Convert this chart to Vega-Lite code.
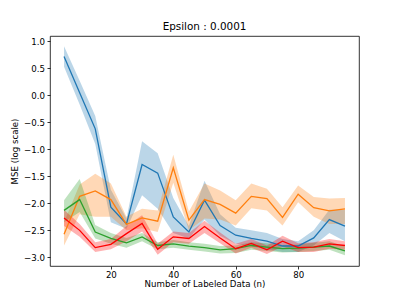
{
  "$schema": "https://vega.github.io/schema/vega-lite/v6.json",
  "autosize": {"type": "none"},
  "width": 309,
  "height": 230,
  "padding": {"left": 50, "top": 36, "right": 40, "bottom": 33},
  "background": "white",
  "title": {"text": "Epsilon : 0.0001", "fontSize": 10.4, "fontWeight": "normal", "font": "DejaVu Sans", "color": "#000", "anchor": "middle", "offset": -4, "baseline": "alphabetic"},
  "config": {
    "view": {"stroke": "#000", "strokeWidth": 0.8},
    "axis": {"font": "DejaVu Sans", "labelFont": "DejaVu Sans", "titleFont": "DejaVu Sans", "labelFontSize": 8.65, "titleFontSize": 8.65, "titleFontWeight": "normal", "labelColor": "#000", "titleColor": "#000", "tickColor": "#000", "tickSize": 3, "tickWidth": 0.8, "domain": false, "grid": false, "labelPadding": 2.5, "labelOverlap": false},
    "axisY": {"labelOverlap": false, "labelBound": false}
  },
  "data": {"values": [
    {"s":"s1","x":5,"y":0.72,"lo":0.53,"hi":0.91},
    {"s":"s1","x":10,"y":0.05,"lo":-0.17,"hi":0.27},
    {"s":"s1","x":15,"y":-0.62,"lo":-0.90,"hi":-0.38},
    {"s":"s1","x":20,"y":-2.07,"lo":-2.35,"hi":-1.75},
    {"s":"s1","x":25,"y":-2.38,"lo":-2.47,"hi":-2.28},
    {"s":"s1","x":30,"y":-1.28,"lo":-1.85,"hi":-0.85},
    {"s":"s1","x":35,"y":-1.44,"lo":-2.10,"hi":-1.07},
    {"s":"s1","x":40,"y":-2.25,"lo":-2.55,"hi":-1.90},
    {"s":"s1","x":45,"y":-2.53,"lo":-2.65,"hi":-2.42},
    {"s":"s1","x":50,"y":-1.94,"lo":-2.30,"hi":-1.58},
    {"s":"s1","x":55,"y":-2.41,"lo":-2.60,"hi":-2.20},
    {"s":"s1","x":60,"y":-2.59,"lo":-2.75,"hi":-2.45},
    {"s":"s1","x":65,"y":-2.65,"lo":-2.80,"hi":-2.50},
    {"s":"s1","x":70,"y":-2.70,"lo":-2.85,"hi":-2.55},
    {"s":"s1","x":75,"y":-2.79,"lo":-2.90,"hi":-2.66},
    {"s":"s1","x":80,"y":-2.79,"lo":-2.90,"hi":-2.70},
    {"s":"s1","x":85,"y":-2.64,"lo":-2.78,"hi":-2.50},
    {"s":"s1","x":90,"y":-2.30,"lo":-2.55,"hi":-2.12},
    {"s":"s1","x":95,"y":-2.42,"lo":-2.70,"hi":-2.12},
    {"s":"s2","x":5,"y":-2.57,"lo":-2.78,"hi":-2.35},
    {"s":"s2","x":10,"y":-1.87,"lo":-2.20,"hi":-1.65},
    {"s":"s2","x":15,"y":-1.77,"lo":-2.25,"hi":-1.45},
    {"s":"s2","x":20,"y":-1.93,"lo":-2.25,"hi":-1.63},
    {"s":"s2","x":25,"y":-2.39,"lo":-2.50,"hi":-2.25},
    {"s":"s2","x":30,"y":-2.27,"lo":-2.46,"hi":-2.10},
    {"s":"s2","x":35,"y":-2.33,"lo":-2.53,"hi":-2.13},
    {"s":"s2","x":40,"y":-1.34,"lo":-1.62,"hi":-1.10},
    {"s":"s2","x":45,"y":-2.31,"lo":-2.50,"hi":-2.15},
    {"s":"s2","x":50,"y":-1.93,"lo":-2.28,"hi":-1.63},
    {"s":"s2","x":55,"y":-2.02,"lo":-2.30,"hi":-1.76},
    {"s":"s2","x":60,"y":-2.18,"lo":-2.41,"hi":-1.94},
    {"s":"s2","x":65,"y":-1.87,"lo":-2.09,"hi":-1.63},
    {"s":"s2","x":70,"y":-1.91,"lo":-2.13,"hi":-1.73},
    {"s":"s2","x":75,"y":-2.26,"lo":-2.41,"hi":-2.07},
    {"s":"s2","x":80,"y":-1.83,"lo":-1.98,"hi":-1.67},
    {"s":"s2","x":85,"y":-2.08,"lo":-2.25,"hi":-1.88},
    {"s":"s2","x":90,"y":-2.14,"lo":-2.38,"hi":-1.91},
    {"s":"s2","x":95,"y":-2.10,"lo":-2.38,"hi":-1.90},
    {"s":"s3","x":5,"y":-2.13,"lo":-2.35,"hi":-1.94},
    {"s":"s3","x":10,"y":-1.93,"lo":-2.16,"hi":-1.55},
    {"s":"s3","x":15,"y":-2.53,"lo":-2.65,"hi":-2.40},
    {"s":"s3","x":20,"y":-2.65,"lo":-2.75,"hi":-2.55},
    {"s":"s3","x":25,"y":-2.73,"lo":-2.82,"hi":-2.64},
    {"s":"s3","x":30,"y":-2.62,"lo":-2.70,"hi":-2.55},
    {"s":"s3","x":35,"y":-2.78,"lo":-2.85,"hi":-2.72},
    {"s":"s3","x":40,"y":-2.75,"lo":-2.82,"hi":-2.68},
    {"s":"s3","x":45,"y":-2.79,"lo":-2.86,"hi":-2.72},
    {"s":"s3","x":50,"y":-2.82,"lo":-2.89,"hi":-2.75},
    {"s":"s3","x":55,"y":-2.86,"lo":-2.93,"hi":-2.79},
    {"s":"s3","x":60,"y":-2.84,"lo":-2.92,"hi":-2.78},
    {"s":"s3","x":65,"y":-2.78,"lo":-2.86,"hi":-2.72},
    {"s":"s3","x":70,"y":-2.81,"lo":-2.88,"hi":-2.74},
    {"s":"s3","x":75,"y":-2.84,"lo":-2.91,"hi":-2.77},
    {"s":"s3","x":80,"y":-2.83,"lo":-2.90,"hi":-2.76},
    {"s":"s3","x":85,"y":-2.81,"lo":-2.88,"hi":-2.73},
    {"s":"s3","x":90,"y":-2.79,"lo":-2.86,"hi":-2.70},
    {"s":"s3","x":95,"y":-2.88,"lo":-2.96,"hi":-2.80},
    {"s":"s4","x":5,"y":-2.27,"lo":-2.42,"hi":-2.12},
    {"s":"s4","x":10,"y":-2.50,"lo":-2.62,"hi":-2.38},
    {"s":"s4","x":15,"y":-2.82,"lo":-2.90,"hi":-2.72},
    {"s":"s4","x":20,"y":-2.76,"lo":-2.85,"hi":-2.66},
    {"s":"s4","x":25,"y":-2.56,"lo":-2.70,"hi":-2.42},
    {"s":"s4","x":30,"y":-2.37,"lo":-2.52,"hi":-2.22},
    {"s":"s4","x":35,"y":-2.85,"lo":-2.95,"hi":-2.75},
    {"s":"s4","x":40,"y":-2.62,"lo":-2.72,"hi":-2.52},
    {"s":"s4","x":45,"y":-2.65,"lo":-2.75,"hi":-2.55},
    {"s":"s4","x":50,"y":-2.43,"lo":-2.55,"hi":-2.32},
    {"s":"s4","x":55,"y":-2.64,"lo":-2.74,"hi":-2.54},
    {"s":"s4","x":60,"y":-2.84,"lo":-2.93,"hi":-2.75},
    {"s":"s4","x":65,"y":-2.74,"lo":-2.82,"hi":-2.66},
    {"s":"s4","x":70,"y":-2.86,"lo":-2.94,"hi":-2.78},
    {"s":"s4","x":75,"y":-2.70,"lo":-2.80,"hi":-2.60},
    {"s":"s4","x":80,"y":-2.82,"lo":-2.90,"hi":-2.74},
    {"s":"s4","x":85,"y":-2.81,"lo":-2.90,"hi":-2.72},
    {"s":"s4","x":90,"y":-2.75,"lo":-2.84,"hi":-2.66},
    {"s":"s4","x":95,"y":-2.78,"lo":-2.86,"hi":-2.70}
  ]},
  "encoding": {
    "x": {"field": "x", "type": "quantitative", "title": "Number of Labeled Data (n)",
          "scale": {"domain": [0.5, 99.5], "nice": false, "zero": false},
          "axis": {"values": [20, 40, 60, 80], "format": "d", "labelPadding": 1.5, "titlePadding": 0}},
    "color": {"field": "s", "type": "nominal", "legend": null,
              "scale": {"domain": ["s1", "s2", "s3", "s4"], "range": ["#1f77b4", "#ff7f0e", "#2ca02c", "#ff0000"]}}
  },
  "layer": [
    {
      "mark": {"type": "area", "opacity": 0.3},
      "encoding": {
        "y": {"field": "lo", "type": "quantitative", "title": "MSE (log scale)",
              "scale": {"domain": [-3.16, 1.10], "nice": false, "zero": false},
              "axis": {"values": [-3, -2.5, -2, -1.5, -1, -0.5, 0, 0.5, 1], "format": ".1f", "titlePadding": 4, "labelOverlap": false}},
        "y2": {"field": "hi"}
      }
    },
    {
      "mark": {"type": "line", "strokeWidth": 1.3},
      "encoding": {
        "y": {"field": "y", "type": "quantitative", "axis": {"values": [-3, -2.5, -2, -1.5, -1, -0.5, 0, 0.5, 1], "format": ".1f", "titlePadding": 4, "labelOverlap": false}}
      }
    }
  ]
}
